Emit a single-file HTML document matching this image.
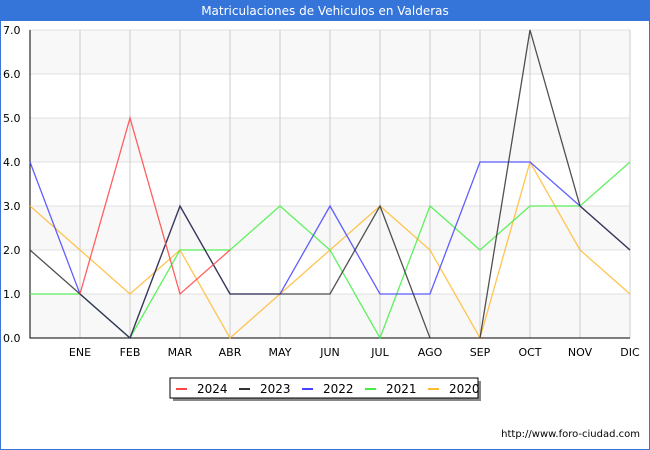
<!DOCTYPE html>
<html><head><meta charset="utf-8"><style>
body{margin:0;width:650px;height:450px;overflow:hidden;background:#fff;font-family:"DejaVu Sans",sans-serif}
#frame{position:absolute;left:0;top:0;width:648px;height:448px;border:1px solid #3a75d6}
#title{position:absolute;left:0;top:0;width:650px;height:21px;background:#3574d8;color:#fff;font-size:12px;text-align:center;line-height:22px}
</style></head><body>
<div id="frame"></div>
<div id="title">Matriculaciones de Vehiculos en Valderas</div>
<svg id="chart" width="650" height="450" style="position:absolute;left:0;top:0;font-family:'DejaVu Sans',sans-serif"></svg>
<script>
const months=["","ENE","FEB","MAR","ABR","MAY","JUN","JUL","AGO","SEP","OCT","NOV","DIC"];
const yTicks=[0,1,2,3,4,5,6,7];
const years=["2024","2023","2022","2021","2020"];
const colors=["#ff4444","#333333","#4444ff","#44ee44","#ffbb33"];
const s2024=[null,1,5,1,2];
const s2023=[2,1,0,3,1,1,1,3,0,0,7,3,2];
const s2022=[4,1,0,3,1,1,3,1,1,4,4,3,2];
const s2021=[1,1,0,2,2,3,2,0,3,2,3,3,4];
const s2020=[3,2,1,2,0,1,2,3,2,0,4,2,1];
const series=[s2024,s2023,s2022,s2021,s2020];
const L=30,R=630,T=30,B=338,ymax=7;
const x=i=>L+i*(R-L)/(months.length-1);
const y=v=>B-v*(B-T)/ymax;
const svg=document.getElementById('chart');
const NS="http://www.w3.org/2000/svg";
function mk(t,a,p){const e=document.createElementNS(NS,t);for(const k in a)e.setAttribute(k,a[k]);(p||svg).appendChild(e);return e;}
for(let k=0;k<ymax;k+=2){const b=mk('rect',{x:L,y:y(k+1),width:R-L,height:y(k)-y(k+1),fill:'#f8f8f8'});

}
yTicks.forEach(v=>{const g=mk('line',{x1:L,x2:R,y1:y(v),y2:y(v),stroke:'#e0e0e0'});


const t=mk('text',{x:3,y:y(v)+4,'font-size':11,fill:'#000'});t.textContent=v.toFixed(1);

});
months.forEach((m,i)=>{if(i>0){const g=mk('line',{x1:x(i),x2:x(i),y1:T,y2:B,stroke:'#cccccc'});

}
const t=mk('text',{x:x(i),y:356,'font-size':11,'text-anchor':'middle',fill:'#000'});t.textContent=m;

});
const ax=mk('path',{d:`M${L},${T}V${B}H${R}`,fill:'none',stroke:'#000'});


for(let s=series.length-1;s>=0;s--){const d=series[s].map((v,i)=>v==null?null:`${x(i)},${y(v)}`).filter(p=>p).join(' ');
const p=mk('polyline',{points:d,fill:'none',stroke:colors[s],'stroke-width':1.3,'stroke-opacity':0.85});

}
const lg=mk('g',{});


mk('rect',{x:173,y:381,width:308,height:20,fill:'#888'},lg);
mk('rect',{x:170,y:378,width:308,height:20,fill:'#fff',stroke:'#000'},lg);
years.forEach((yr,i)=>{const ex=176+i*63;
const e=mk('g',{},lg);


mk('line',{x1:ex,x2:ex+11,y1:389,y2:389,stroke:colors[i],'stroke-width':2},e);
const t=mk('text',{x:ex+21,y:393,'font-size':12,fill:'#000'},e);t.textContent=yr;});
const u=mk('text',{x:640,y:437,'font-size':10,'text-anchor':'end',fill:'#000'});u.textContent="http://www.foro-ciudad.com";


</script>
</body></html>
